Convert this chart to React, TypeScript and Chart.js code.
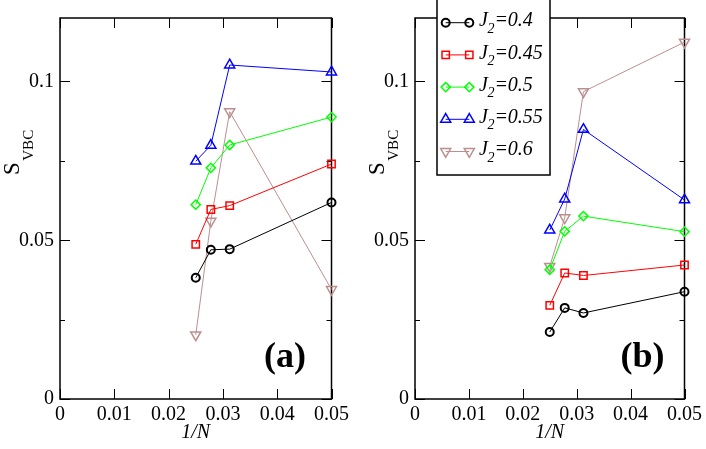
import React, { useEffect, useRef } from 'react';
import { Chart, registerables } from 'chart.js';

Chart.register(...registerables);

// ---------- data ----------
const nValues = [40, 36, 32, 20];
const invN = nValues.map((n) => 1 / n);

const seriesLabels = ['0.4', '0.45', '0.5', '0.55', '0.6'];

// panel (a)
const a_J040 = [0.0382, 0.047, 0.0472, 0.0619];
const a_J045 = [0.0487, 0.0597, 0.0609, 0.074];
const a_J050 = [0.0612, 0.0728, 0.08, 0.0888];
const a_J055 = [0.0749, 0.0799, 0.1052, 0.103];
const a_J060 = [0.0202, 0.056, 0.0905, 0.0345];

// panel (b)
const b_J040 = [0.0211, 0.0287, 0.0271, 0.0338];
const b_J045 = [0.0295, 0.0397, 0.0389, 0.0422];
const b_J050 = [0.0407, 0.0528, 0.0576, 0.0527];
const b_J055 = [0.0532, 0.063, 0.0849, 0.0627];
const b_J060 = [0.0418, 0.0571, 0.0968, 0.1124];

const xTicks = [0, 0.01, 0.02, 0.03, 0.04, 0.05];
const yTicks = [0, 0.025, 0.05, 0.075, 0.1];
const yMajor = [0, 0.05, 0.1];

// ---------- styles ----------
const colors = ['#000000', '#ff0000', '#00ff00', '#0000ff', '#bc8f8f'];
const pointStyles = ['circle', 'rect', 'rectRot', 'triangle', 'triangle'];
const rotations = [0, 0, 0, 0, 180];
const radii = [4, 5.2, 4.6, 5.8, 5.8];
const pointBorders = [2, 1.5, 1.5, 1.5, 1.5];

const SERIF = '"Liberation Serif", "DejaVu Serif", serif';

function makeDatasets(values: number[][]) {
  return values.map((vals, i) => ({
    label: 'J2=' + seriesLabels[i],
    data: vals.map((v, k) => ({ x: invN[k], y: v })),
    borderColor: colors[i],
    backgroundColor: 'rgba(0,0,0,0)',
    pointStyle: pointStyles[i],
    pointRotation: rotations[i],
    pointRadius: radii[i],
    pointHoverRadius: radii[i],
    pointBorderWidth: pointBorders[i],
    pointBackgroundColor: 'rgba(0,0,0,0)',
    pointBorderColor: colors[i],
    borderWidth: 1,
    showLine: true,
    clip: false as any,
    tension: 0,
  }));
}

function isMajorY(v: number) {
  return yMajor.some((m) => Math.abs(m - v) < 1e-9);
}

function drawMarker(ctx: CanvasRenderingContext2D, style: string, x: number, y: number, r: number, rot: number) {
  ctx.beginPath();
  if (style === 'circle') {
    ctx.arc(x, y, r, 0, Math.PI * 2);
  } else if (style === 'rect') {
    const s = Math.SQRT1_2 * r;
    ctx.rect(x - s, y - s, 2 * s, 2 * s);
  } else if (style === 'rectRot') {
    ctx.moveTo(x - r, y);
    ctx.lineTo(x, y - r);
    ctx.lineTo(x + r, y);
    ctx.lineTo(x, y + r);
    ctx.closePath();
  } else if (style === 'triangle') {
    let rad = (rot * Math.PI) / 180;
    ctx.moveTo(x + Math.sin(rad) * r, y - Math.cos(rad) * r);
    rad += (2 * Math.PI) / 3;
    ctx.lineTo(x + Math.sin(rad) * r, y - Math.cos(rad) * r);
    rad += (2 * Math.PI) / 3;
    ctx.lineTo(x + Math.sin(rad) * r, y - Math.cos(rad) * r);
    ctx.closePath();
  }
  ctx.stroke();
}

interface PanelCfg {
  letter: string;
  yAxisWidth: number;
  padRight: number;
  sBaselineX: number;
  letterX: number;
  legend: boolean;
}

function makeFramePlugin() {
  return {
    id: 'frameTicks',
    beforeDatasetsDraw(chart: any) {
      const { ctx, chartArea: a, scales } = chart;
      ctx.save();
      ctx.strokeStyle = '#000';
      ctx.lineWidth = 1;
      ctx.beginPath();
      for (const t of scales.x.ticks) {
        const px = Math.round(scales.x.getPixelForValue(t.value)) + 0.5;
        ctx.moveTo(px, a.bottom);
        ctx.lineTo(px, a.bottom - 10);
        ctx.moveTo(px, a.top);
        ctx.lineTo(px, a.top + 10);
      }
      for (const t of scales.y.ticks) {
        const py = Math.round(scales.y.getPixelForValue(t.value)) + 0.5;
        const len = isMajorY(t.value) ? 10 : 5;
        ctx.moveTo(a.left, py);
        ctx.lineTo(a.left + len, py);
        ctx.moveTo(a.right, py);
        ctx.lineTo(a.right - len, py);
      }
      ctx.stroke();
      ctx.lineWidth = 1.5;
      ctx.strokeRect(a.left, a.top, a.right - a.left, a.bottom - a.top);
      ctx.restore();
    },
  };
}

function makeTextPlugin(cfg: PanelCfg) {
  return {
    id: 'panelText',
    afterDraw(chart: any) {
      const { ctx, chartArea: a } = chart;
      ctx.save();
      ctx.fillStyle = '#000';
      ctx.textBaseline = 'alphabetic';

      // y title S_VBC (rotated)
      ctx.save();
      ctx.translate(cfg.sBaselineX, 175);
      ctx.rotate(-Math.PI / 2);
      ctx.textAlign = 'left';
      ctx.font = `23px ${SERIF}`;
      ctx.fillText('S', 0, 0);
      const sw = ctx.measureText('S').width;
      ctx.font = `15px ${SERIF}`;
      ctx.fillText('VBC', sw + 1.5, 14);
      ctx.restore();

      // x title 1/N
      ctx.font = `italic 20px ${SERIF}`;
      ctx.textAlign = 'center';
      ctx.fillText('1/N', (a.left + a.right) / 2, 438);

      // panel letter
      ctx.font = `bold 36px ${SERIF}`;
      ctx.textAlign = 'center';
      ctx.fillText(`(${cfg.letter})`, cfg.letterX, 367);

      if (cfg.legend) {
        const bx = 84;
        const bw = 113;
        ctx.fillStyle = '#fff';
        ctx.fillRect(bx, -2, bw, 177);
        ctx.strokeStyle = '#000';
        ctx.lineWidth = 1.5;
        ctx.strokeRect(bx, -2, bw, 177);
        for (let i = 0; i < seriesLabels.length; i++) {
          const cy = 22.7 + i * 32.2;
          const x1 = 92.7;
          const x2 = 116.3;
          ctx.strokeStyle = colors[i];
          ctx.lineWidth = 1;
          ctx.beginPath();
          ctx.moveTo(x1, cy);
          ctx.lineTo(x2, cy);
          ctx.stroke();
          ctx.lineWidth = pointBorders[i];
          drawMarker(ctx, pointStyles[i], x1, cy, radii[i], rotations[i]);
          drawMarker(ctx, pointStyles[i], x2, cy, radii[i], rotations[i]);
          // text J_2=value
          ctx.fillStyle = '#000';
          ctx.textAlign = 'left';
          let tx = 126;
          const base = cy + 3.6;
          ctx.font = `italic 20px ${SERIF}`;
          ctx.fillText('J', tx, base);
          tx += ctx.measureText('J').width - 0.5;
          ctx.font = `italic 14px ${SERIF}`;
          ctx.fillText('2', tx, base + 6.5);
          tx += ctx.measureText('2').width;
          ctx.font = `italic 20px ${SERIF}`;
          ctx.fillText('=' + seriesLabels[i], tx, base);
        }
      }
      ctx.restore();
    },
  };
}

function Panel({ values, cfg, left }: { values: number[][]; cfg: PanelCfg; left: number }) {
  const ref = useRef<HTMLCanvasElement | null>(null);
  useEffect(() => {
    if (!ref.current) return;
    const chart = new Chart(ref.current, {
      type: 'scatter',
      data: { datasets: makeDatasets(values) as any },
      options: {
        animation: false,
        responsive: false,
        maintainAspectRatio: false,
        events: [],
        layout: { padding: { left: 0, top: 16, right: cfg.padRight, bottom: 0 } },
        plugins: { legend: { display: false }, tooltip: { enabled: false } },
        scales: {
          x: {
            type: 'linear',
            min: 0,
            max: 0.05,
            grid: { display: false, drawTicks: false },
            border: { display: false },
            afterBuildTicks: (s: any) => {
              s.ticks = xTicks.map((v) => ({ value: v }));
            },
            afterFit: (s: any) => {
              s.height = 50;
            },
            ticks: {
              autoSkip: false,
              maxRotation: 0,
              minRotation: 0,
              padding: 4,
              color: '#000',
              font: { family: SERIF, size: 20 },
              callback: (v: any) => String(Math.round(Number(v) * 100) / 100),
            },
          },
          y: {
            type: 'linear',
            min: 0,
            max: 0.12,
            grid: { display: false, drawTicks: false },
            border: { display: false },
            afterBuildTicks: (s: any) => {
              s.ticks = yTicks.map((v) => ({ value: v }));
            },
            afterFit: (s: any) => {
              s.width = cfg.yAxisWidth;
            },
            ticks: {
              autoSkip: false,
              padding: 6,
              color: '#000',
              font: { family: SERIF, size: 20 },
              callback: (v: any) => (isMajorY(Number(v)) ? String(Math.round(Number(v) * 100) / 100) : ''),
            },
          },
        },
      },
      plugins: [makeFramePlugin(), makeTextPlugin(cfg)],
    } as any);
    return () => chart.destroy();
  }, []);
  return (
    <canvas
      ref={ref}
      width={353}
      height={449}
      style={{ position: 'absolute', left, top: 0, width: 353, height: 449 }}
    />
  );
}

const panelAValues = [a_J040, a_J045, a_J050, a_J055, a_J060];
const panelBValues = [b_J040, b_J045, b_J050, b_J055, b_J060];

const cfgA: PanelCfg = { letter: 'a', yAxisWidth: 60, padRight: 20, sBaselineX: 19, letterX: 285, legend: false };
const cfgB: PanelCfg = { letter: 'b', yAxisWidth: 62, padRight: 18, sBaselineX: 30.5, letterX: 289.5, legend: true };

export default function App() {
  return (
    <div style={{ position: 'absolute', left: 0, top: 0, width: 706, height: 449, background: '#fff', overflow: 'hidden' }}>
      <Panel values={panelAValues} cfg={cfgA} left={0} />
      <Panel values={panelBValues} cfg={cfgB} left={353} />
    </div>
  );
}
